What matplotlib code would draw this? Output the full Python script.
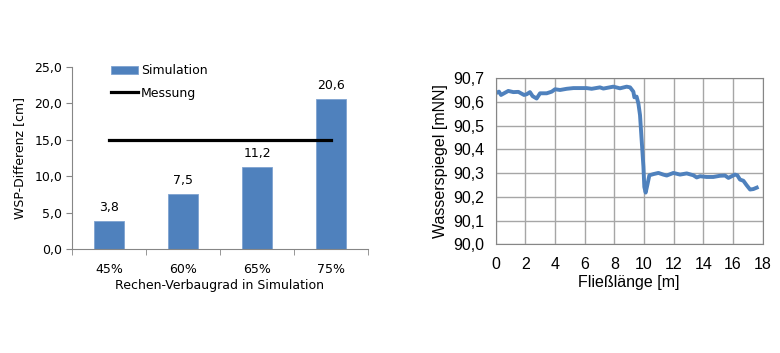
import matplotlib
matplotlib.use("Agg")
import matplotlib.pyplot as plt
from matplotlib.ticker import FuncFormatter

## Data
categories = ["45%", "60%", "65%", "75%"]
simulation = [3.8, 7.5, 11.2, 20.6]
messung = 15.0

# Water level along the flume
fliesslaenge = [0.0, 0.22, 0.36, 0.85, 1.19, 1.53, 1.91, 2.09, 2.31, 2.49, 2.76, 2.99,
                3.44, 3.78, 4.0, 4.34, 4.79, 5.24, 6.13, 6.47, 7.03, 7.26, 7.93, 8.38,
                8.83, 9.06, 9.28, 9.35, 9.5, 9.62, 9.73, 9.84, 9.96, 10.02, 10.11, 10.22,
                10.36, 10.63, 10.97, 11.3, 11.53, 11.98, 12.43, 12.88, 13.33, 13.55, 13.78,
                14.22, 14.67, 15.12, 15.46, 15.69, 15.91, 16.13, 16.29, 16.47, 16.7, 16.92,
                17.15, 17.37, 17.6]
wasserspiegel = [90.637, 90.644, 90.630, 90.647, 90.642, 90.643, 90.630, 90.633, 90.642,
                 90.625, 90.615, 90.637, 90.637, 90.644, 90.654, 90.651, 90.656, 90.659,
                 90.659, 90.656, 90.662, 90.657, 90.665, 90.658, 90.665, 90.662, 90.644,
                 90.620, 90.623, 90.594, 90.545, 90.440, 90.327, 90.242, 90.218, 90.249,
                 90.291, 90.296, 90.301, 90.294, 90.290, 90.301, 90.294, 90.299, 90.291,
                 90.282, 90.287, 90.284, 90.284, 90.289, 90.290, 90.280, 90.287, 90.294,
                 90.291, 90.273, 90.268, 90.249, 90.231, 90.233, 90.239]

blue = "#4F81BD"
comma = lambda fmt: FuncFormatter(lambda v, p: format(v, fmt).replace(".", ","))

fig = plt.figure(figsize=(7.8, 3.53), dpi=100)

## Left: bar chart
ax1 = fig.add_axes([0.0923, 0.2946, 0.3795, 0.5156])
x = list(range(len(categories)))
bars = ax1.bar(x, simulation, width=0.4, color=blue, edgecolor="#7FA3D0", linewidth=0.6,
               label="Simulation")
line, = ax1.plot([x[0], x[-1]], [messung, messung], color="black", lw=2.3, label="Messung")
for xi, v in zip(x, simulation):
    ax1.text(xi, v + 1.0, format(v, ".1f").replace(".", ","), ha="center", va="bottom",
             fontsize=9, family="DejaVu Sans")

ax1.set_xlim(-0.5, 3.5)
ax1.set_ylim(0, 25)
ax1.set_yticks([0, 5, 10, 15, 20, 25])
ax1.yaxis.set_major_formatter(comma(".1f"))
ax1.set_xticks(x)
ax1.set_xticklabels(categories)
ax1.set_xticks([-0.5, 0.5, 1.5, 2.5, 3.5], minor=True)
ax1.tick_params(axis="x", which="major", length=0, pad=10, labelsize=9)
ax1.tick_params(axis="x", which="minor", length=4, color="#868686")
ax1.tick_params(axis="y", length=4, color="#868686", labelsize=9, pad=3)
for s in ["top", "right"]:
    ax1.spines[s].set_visible(False)
for s in ["left", "bottom"]:
    ax1.spines[s].set_color("#868686")
ax1.set_ylabel("WSP-Differenz [cm]", fontsize=9, labelpad=6)
ax1.set_xlabel("Rechen-Verbaugrad in Simulation", fontsize=9, labelpad=2)
ax1.legend([bars, line], ["Simulation", "Messung"], loc="upper left",
           bbox_to_anchor=(105 / 780, 1 - 58 / 353),
           bbox_transform=fig.transFigure, frameon=False, fontsize=9,
           handlelength=2.1, handletextpad=0.3, labelspacing=0.75, borderpad=0)

## Right: water level line
ax2 = fig.add_axes([0.6355, 0.308, 0.3423, 0.470])
ax2.plot(fliesslaenge, wasserspiegel, color=blue, lw=2.8, solid_joinstyle="round")
ax2.set_xlim(0, 18)
ax2.set_ylim(90.0, 90.7)
ax2.set_xticks(range(0, 19, 2))
ax2.set_yticks([90.0 + 0.1 * i for i in range(8)])
ax2.yaxis.set_major_formatter(comma(".1f"))
ax2.grid(True, color="#A6A6A6", lw=1.0)
ax2.set_axisbelow(True)
for s in ax2.spines.values():
    s.set_color("#868686")
ax2.tick_params(axis="y", length=0, labelsize=11.5, pad=8)
ax2.tick_params(axis="x", length=0, labelsize=11.5, pad=9)
for lab in ax2.get_xticklabels() + ax2.get_yticklabels():
    lab.set_family("Liberation Sans")
ax2.set_ylabel("Wasserspiegel [mNN]", fontsize=11.5, family="Liberation Sans", labelpad=4)
ax2.set_xlabel("Fließlänge [m]", fontsize=11.5, family="Liberation Sans", labelpad=2)

fig.savefig("out.png", dpi=100)
